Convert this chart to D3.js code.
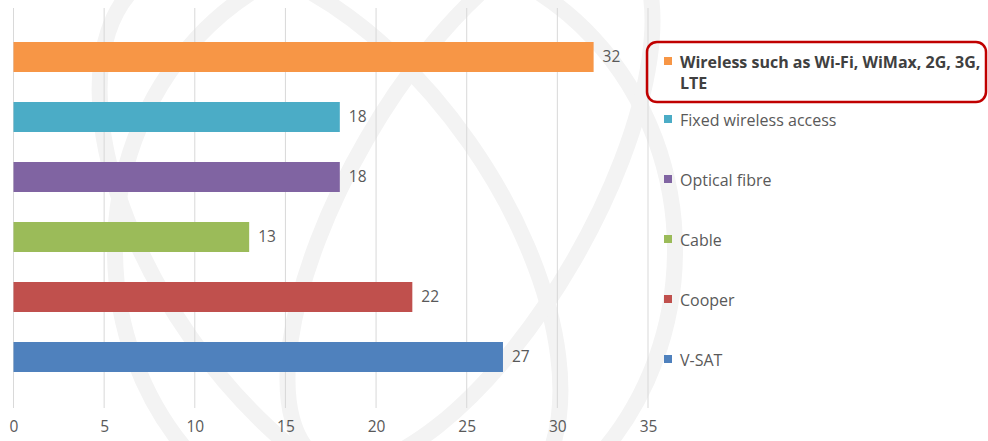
<!DOCTYPE html>
<html>
<head>
<meta charset="utf-8">
<script src="https://cdn.jsdelivr.net/npm/d3@7"></script>
<style>
  body { margin: 0; background: #fff; }
  svg { display: block; }
</style>
</head>
<body>
<div id="chart"></div>
<script>
// chart data, top bar first
const categories = ["Wireless such as Wi-Fi, WiMax, 2G, 3G, LTE", "Fixed wireless access", "Optical fibre", "Cable", "Cooper", "V-SAT"];
const values = [32, 18, 18, 13, 22, 27];
const colors = ["#F79646", "#4BACC6", "#8064A2", "#9BBB59", "#C0504D", "#4F81BD"];
const xTicks = [0, 5, 10, 15, 20, 25, 30, 35];

const width = 988, height = 441;
const textColor = "#595959";
const font = "'Open Sans', sans-serif";

const svg = d3.select("#chart").append("svg")
  .attr("width", width)
  .attr("height", height)
  .attr("font-family", font);

// faint globe watermark in the background
const wm = svg.append("g")
  .attr("fill", "none")
  .attr("stroke", "#f3f3f3")
  .attr("stroke-width", 16);
wm.append("ellipse").attr("cx", 395).attr("cy", 250).attr("rx", 280).attr("ry", 300);
wm.append("ellipse").attr("cx", 330).attr("cy", 240).attr("rx", 170).attr("ry", 320)
  .attr("transform", "rotate(-35 330 240)");
wm.append("ellipse").attr("cx", 470).attr("cy", 200).attr("rx", 120).attr("ry", 300)
  .attr("transform", "rotate(30 470 200)");

const x = d3.scaleLinear().domain([0, 35]).range([13.5, 648]);
const y = d3.scaleBand().domain(categories).range([27, 387]).paddingInner(0.5).paddingOuter(0.25);

// vertical gridlines
svg.append("g")
  .selectAll("line")
  .data(xTicks)
  .join("line")
  .attr("x1", d => x(d)).attr("x2", d => x(d))
  .attr("y1", 8).attr("y2", 408)
  .attr("stroke", "#d9d9d9")
  .attr("stroke-width", 1);

// x axis labels (no axis line)
const xAxis = svg.append("g")
  .attr("transform", "translate(0,421)")
  .call(d3.axisBottom(x).tickValues(xTicks).tickSize(0).tickPadding(0));
xAxis.select(".domain").remove();
xAxis.selectAll("text")
  .attr("fill", textColor)
  .attr("font-size", 15.5)
  .attr("font-family", font);

// bars
svg.append("g")
  .selectAll("rect")
  .data(categories)
  .join("rect")
  .attr("x", x(0))
  .attr("y", d => y(d))
  .attr("width", (d, i) => x(values[i]) - x(0))
  .attr("height", y.bandwidth())
  .attr("fill", (d, i) => colors[i]);

// value labels
svg.append("g")
  .selectAll("text")
  .data(categories)
  .join("text")
  .attr("x", (d, i) => x(values[i]) + 9)
  .attr("y", d => y(d) + y.bandwidth() / 2)
  .attr("dy", "0.35em")
  .attr("fill", textColor)
  .attr("font-size", 15.5)
  .text((d, i) => values[i]);

// legend
const legend = svg.append("g");
const item = legend.selectAll("g")
  .data(categories)
  .join("g")
  .attr("transform", (d, i) => `translate(664,${i === 0 ? 62 : y(d) + y.bandwidth() / 2 + 3})`);

item.append("rect")
  .attr("x", 0).attr("y", -5)
  .attr("width", 8).attr("height", 8)
  .attr("fill", (d, i) => colors[i]);

item.append("text")
  .attr("x", 16)
  .attr("dy", "0.35em")
  .attr("fill", (d, i) => i === 0 ? "#404040" : textColor)
  .attr("font-size", 16)
  .attr("font-weight", (d, i) => i === 0 ? "bold" : "normal")
  .each(function (d, i) {
    const t = d3.select(this);
    if (i === 0) {
      t.append("tspan").attr("x", 16).text("Wireless such as Wi-Fi, WiMax, 2G, 3G,");
      t.append("tspan").attr("x", 16).attr("dy", 21).text("LTE");
    } else {
      t.text(d);
    }
  });

// highlight box around first legend entry
svg.append("rect")
  .attr("x", 647).attr("y", 42)
  .attr("width", 339).attr("height", 60)
  .attr("rx", 10)
  .attr("fill", "none")
  .attr("stroke", "#C00000")
  .attr("stroke-width", 2.5);
</script>
</body>
</html>
